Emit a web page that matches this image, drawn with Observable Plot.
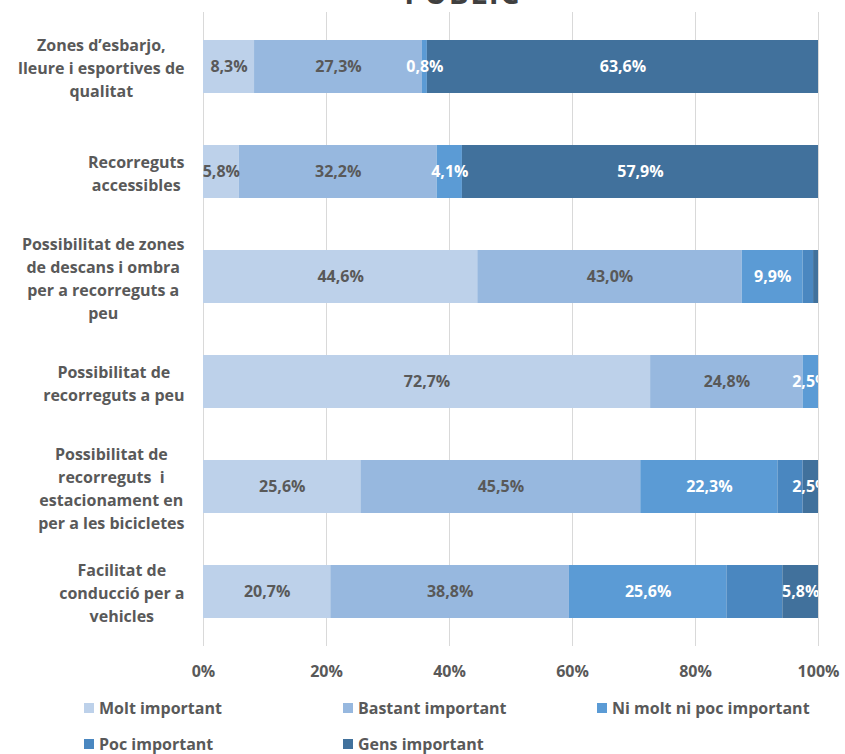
<!DOCTYPE html>
<html>
<head>
<meta charset="utf-8">
<script src="https://cdn.jsdelivr.net/npm/d3@7"></script>
<script src="https://cdn.jsdelivr.net/npm/@observablehq/plot@0.6"></script>
<style>
  html, body { margin: 0; padding: 0; background: #fff; overflow: hidden; }
  body { width: 845px; height: 754px; position: relative; font-family: "Open Sans", sans-serif; }
  #title { position: absolute; left: 0; width: 925px; text-align: center; top: -22px; font-size: 30px; font-weight: 700; color: #404040; letter-spacing: 1.5px; line-height: 30px; }
  #chart { position: absolute; left: 0; top: 0; }
  .leg { position: absolute; font-size: 16px; font-weight: 700; color: #595959; display: flex; align-items: center; white-space: nowrap; }
  .leg span.sw { width: 10px; height: 10px; margin-right: 5px; display: inline-block; }
</style>
</head>
<body>
<div id="title">PÚBLIC</div>
<div id="chart"></div>
<div id="legend"></div>
<script>
const categories = [
  "Zones d’esbarjo,\nlleure i esportives de\nqualitat",
  "Recorreguts\naccessibles",
  "Possibilitat de zones\nde descans i ombra\nper a recorreguts a\npeu",
  "Possibilitat de\nrecorreguts a peu",
  "Possibilitat de\nrecorreguts  i\nestacionament en\nper a les bicicletes",
  "Facilitat de\nconducció per a\nvehicles"
];
const seriesNames = ["Molt important", "Bastant important", "Ni molt ni poc important", "Poc important", "Gens important"];
const molt    = [8.3, 5.8, 44.6, 72.7, 25.6, 20.7];
const bastant = [27.3, 32.2, 43.0, 24.8, 45.5, 38.8];
const ni      = [0.8, 4.1, 9.9, 2.5, 22.3, 25.6];
const poc     = [0.0, 0.0, 1.7, 0.0, 4.1, 9.1];
const gens    = [63.6, 57.9, 0.8, 0.0, 2.5, 5.8];
const xTicks = [0, 20, 40, 60, 80, 100];
const colors = ["#bdd1ea", "#97b8df", "#5b9bd5", "#4a87c0", "#41719c"];

const seriesValues = [molt, bastant, ni, poc, gens];
const rows = [];
categories.forEach((c, i) => {
  seriesNames.forEach((s, j) => {
    rows.push({cat: c, series: s, value: seriesValues[j][i], si: j});
  });
});
const fmt = v => v.toFixed(1).replace(".", ",") + "%";
const showLabel = d => d.value > 0 && d.series !== "Poc important" && !(d.series === "Gens important" && d.value < 1);

const W = 845, ML = 203, MR = 27;
const labelFont = "700 16px 'Open Sans'";
const ctx = document.createElement("canvas").getContext("2d");
ctx.font = labelFont;
const xs = Plot.scale({x: {domain: [0, 100], range: [ML, W - MR]}});
const labelRight = 184;
const labelX = c => {
  const maxW = Math.max(...c.split("\n").map(l => ctx.measureText(l).width));
  return xs.invert(labelRight - maxW / 2);
};

const chart = Plot.plot({
  width: W,
  height: 690,
  marginLeft: ML,
  marginRight: MR,
  marginTop: 12,
  marginBottom: 44,
  style: { fontFamily: "'Open Sans', sans-serif", background: "transparent" },
  x: { domain: [0, 100], label: null },
  y: { domain: categories, paddingInner: 0.5, paddingOuter: 0.25, axis: null },
  color: { domain: seriesNames, range: colors },
  marks: [
    Plot.ruleX(xTicks, { stroke: "#d9d9d9", strokeWidth: 1 }),
    Plot.barX(rows, Plot.stackX({ x: "value", y: "cat", fill: "series", order: seriesNames })),
    Plot.text(rows, Plot.stackX({
      x: "value", y: "cat", z: "series", order: seriesNames,
      text: d => showLabel(d) ? fmt(d.value) : null,
      fill: d => d.si < 2 ? "#595959" : "#ffffff",
      fontSize: 16, fontWeight: 700, clip: true
    })),
    Plot.text(categories, {
      y: d => d, x: labelX, text: d => d, textAnchor: "middle",
      lineHeight: 1.44, fontSize: 16, fontWeight: 700, fill: "#595959"
    }),
    Plot.axisX({
      ticks: xTicks, tickFormat: d => d + "%", tickSize: 0, tickPadding: 19,
      fontSize: 16, fontWeight: 700, color: "#595959", label: null
    })
  ]
});
document.getElementById("chart").appendChild(chart);

const legPos = [[84, 708], [343, 708], [597, 708], [84, 744], [343, 744]];
const leg = document.getElementById("legend");
seriesNames.forEach((s, i) => {
  const d = document.createElement("div");
  d.className = "leg";
  d.style.left = legPos[i][0] + "px";
  d.style.top = (legPos[i][1] - 11) + "px";
  d.innerHTML = `<span class="sw" style="background:${colors[i]}"></span>${s}`;
  leg.appendChild(d);
});
</script>
</body>
</html>
